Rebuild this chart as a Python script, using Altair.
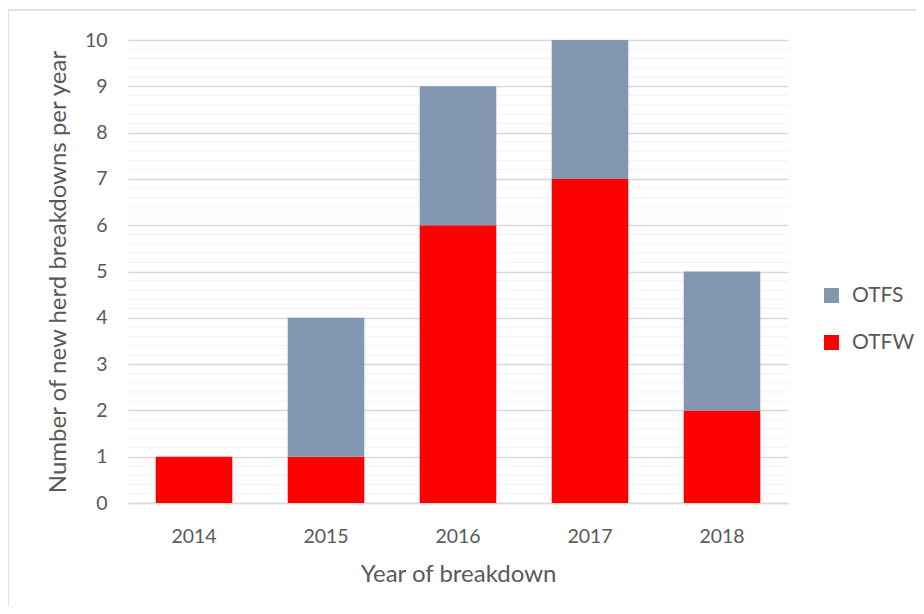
import altair as alt
import pandas as pd

years = ["2014", "2015", "2016", "2017", "2018"]
otfw = [1, 1, 6, 7, 2]
otfs = [0, 3, 3, 3, 3]
series = ["OTFS", "OTFW"]
colors = ["#8497B0", "#FF0000"]
y_ticks = [0, 1, 2, 3, 4, 5, 6, 7, 8, 9, 10]
minor_ticks = [round(i * 0.2, 1) for i in range(1, 50) if i % 5 != 0]

rows = []
for y, w, s in zip(years, otfw, otfs):
    rows.append({"year": y, "series": "OTFW", "value": w, "ord": 0})
    rows.append({"year": y, "series": "OTFS", "value": s, "ord": 1})
df = pd.DataFrame(rows)
minor_df = pd.DataFrame({"v": minor_ticks})

FONT = "Lato"
TXT = "#595959"

minor = alt.Chart(minor_df).mark_rule(color="#F2F2F2", strokeWidth=1).encode(
    y=alt.Y("v:Q", scale=alt.Scale(domain=[0, 10], nice=False))
)

bars = alt.Chart(df).mark_bar().encode(
    x=alt.X("year:N", sort=years, title="Year of breakdown",
            scale=alt.Scale(paddingInner=0.42, paddingOuter=0.21),
            axis=alt.Axis(labelAngle=0, labelFontSize=19.5, labelColor=TXT, labelPadding=24,
                          ticks=False, domainColor="#D9D9D9", domainWidth=1.5,
                          titleFontSize=24, titleColor=TXT, titleFontWeight="normal",
                          titlePadding=17, labelFont=FONT, titleFont=FONT)),
    y=alt.Y("value:Q", stack="zero", title="Number of new herd breakdowns per year",
            scale=alt.Scale(domain=[0, 10], nice=False),
            axis=alt.Axis(values=y_ticks, grid=True, gridColor="#D9D9D9", gridWidth=1.5,
                          domain=False, ticks=False, labelFontSize=19.5, labelColor=TXT,
                          labelPadding=21, titleFontSize=24, titleColor=TXT,
                          titleFontWeight="normal", titlePadding=14,
                          labelFont=FONT, titleFont=FONT)),
    color=alt.Color("series:N", scale=alt.Scale(domain=series, range=colors),
                    legend=alt.Legend(title=None, orient="none", legendX=693, legendY=245,
                                      symbolType="square", symbolSize=225, symbolStrokeWidth=0,
                                      labelFontSize=21, labelColor=TXT, labelFont=FONT,
                                      rowPadding=25, labelOffset=10)),
    order=alt.Order("ord:Q", sort="ascending"),
)

border_left = alt.Chart(pd.DataFrame({"a": [0]})).mark_rule(color="#D9D9D9", strokeWidth=1.5).encode(
    x=alt.value(-120), y=alt.value(-30), y2=alt.value(600)
)
border_top = alt.Chart(pd.DataFrame({"a": [0]})).mark_rule(color="#D9D9D9", strokeWidth=1.5).encode(
    x=alt.value(-120), x2=alt.value(800), y=alt.value(-30)
)

chart = alt.layer(minor, bars, border_left, border_top).properties(
    width=660, height=463,
    autosize=alt.AutoSizeParams(type="none"),
    padding={"left": 120, "top": 32, "right": 128, "bottom": 103},
).configure_view(stroke=None)

chart.save("out.html", embed_options={"renderer": "svg", "actions": False})
